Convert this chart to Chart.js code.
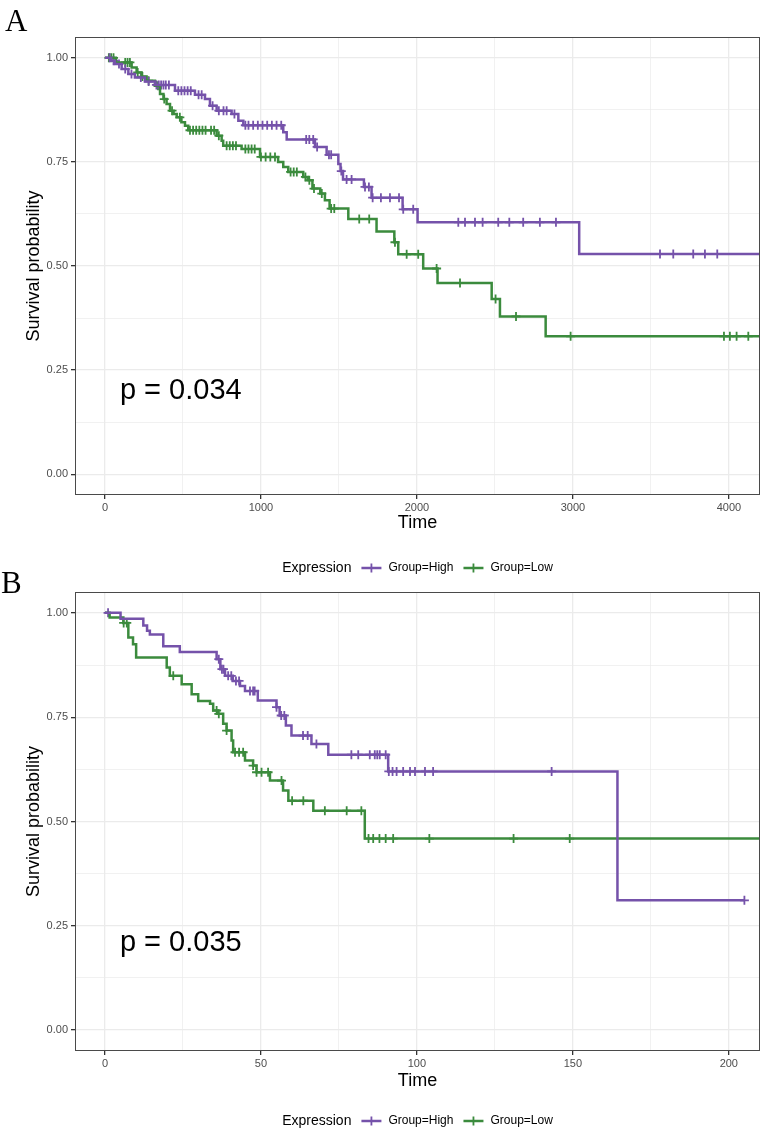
<!DOCTYPE html>
<html><head><meta charset="utf-8">
<script src="https://cdn.jsdelivr.net/npm/chart.js@4/dist/chart.umd.min.js"></script>
<style>
html,body{margin:0;padding:0;background:#fff;}
body{width:760px;height:1130px;position:relative;overflow:hidden;}
canvas{display:block;position:absolute;left:0;}
#cA{top:0;}
#cB{top:580px;}
.tag{position:absolute;font-family:"Liberation Serif","Times New Roman",serif;font-size:31px;color:#000;line-height:1;}
</style></head><body>
<canvas id="cA" width="760" height="580"></canvas>
<canvas id="cB" width="760" height="550"></canvas>
<div class="tag" style="left:5px;top:5px">A</div>
<div class="tag" style="left:1px;top:567px">B</div>
<script>
// ---------- Panel A data ----------
const timeA_high = [0,40,64,107,150,192,256,321,449,577,641,673,716,812,855,887,1143,1165,1346,1421,1496,1510,1526,1660,1709,1908,2004,3040,4300];
const survA_high = [1,0.993,0.985,0.973,0.961,0.953,0.943,0.935,0.921,0.911,0.901,0.885,0.873,0.865,0.849,0.838,0.821,0.804,0.786,0.767,0.745,0.728,0.708,0.690,0.664,0.636,0.605,0.529,0.529];
const censA_high = [30,55,90,130,170,230,280,330,345,360,375,390,410,470,490,510,530,550,600,620,690,730,760,780,830,900,920,950,980,1010,1040,1070,1100,1130,1290,1310,1335,1360,1436,1450,1515,1549,1581,1667,1692,1716,1769,1827,1885,1912,1976,2265,2308,2372,2421,2521,2592,2681,2788,2891,3558,3643,3771,3846,3925];
const timeA_low = [0,70,171,203,235,267,321,353,375,395,417,440,460,490,513,534,716,748,758,876,994,1110,1143,1175,1271,1300,1330,1380,1410,1440,1560,1741,1855,1880,2040,2132,2479,2532,2825,4300];
const survA_low = [1,0.989,0.977,0.965,0.955,0.945,0.933,0.913,0.901,0.889,0.873,0.865,0.857,0.845,0.837,0.826,0.813,0.801,0.789,0.781,0.762,0.750,0.738,0.726,0.714,0.706,0.686,0.674,0.658,0.638,0.613,0.583,0.557,0.528,0.494,0.459,0.421,0.379,0.331,0.331];
const censA_low = [25,40,55,130,145,160,210,240,280,340,380,430,480,545,565,585,605,625,645,680,700,730,780,800,820,840,900,920,940,960,1000,1030,1060,1090,1190,1210,1230,1285,1310,1340,1390,1450,1470,1630,1694,1859,1934,2008,2126,2276,2504,2635,2985,3968,4006,4049,4124];
const xTicksA = [0,500,1000,1500,2000,2500,3000,3500,4000];
const xLabelsA = [0,1000,2000,3000,4000];
const pTextA = "p = 0.034";

// ---------- Panel B data ----------
const timeB_high = [0,5,12.3,13.5,14.4,18.7,24,35.8,37,38.5,41,43.3,44.9,49,55,56,58,59.8,66.2,71.6,90.8,164.3,205];
const survB_high = [1,0.986,0.970,0.957,0.948,0.920,0.906,0.889,0.865,0.849,0.837,0.825,0.813,0.790,0.774,0.754,0.730,0.706,0.686,0.660,0.620,0.311,0.311];
const censB_high = [1,36.5,37.5,38,39.5,40.5,42,43,46.5,47.5,48,55,56.5,57.5,63.5,65,67.8,79,81.2,84.9,86.5,87.3,88.1,90,91,92.2,93.5,95.6,97.8,99.4,102.6,105.2,143.2,205];
const timeB_low = [0,1.5,5.9,7.5,9,10,19.8,20.8,24.6,27.8,29.9,33.7,34.7,36,37.9,39,40.6,41.1,44.9,47.5,48.6,52.9,57.1,58.8,66.8,83.3,215];
const survB_low = [1,0.989,0.976,0.941,0.925,0.893,0.869,0.849,0.829,0.805,0.789,0.782,0.766,0.758,0.734,0.718,0.694,0.666,0.646,0.634,0.618,0.598,0.574,0.550,0.526,0.459,0.459];
const censB_low = [6,7,21.9,35.8,36.5,39,41.7,43,44.3,47.5,48.6,50.2,52.3,56.6,60,63.6,70.5,77.5,82.2,84.5,86,88,90,92.4,104,131,149];
const xTicksB = [0,25,50,75,100,125,150,175,200];
const xLabelsB = [0,50,100,150,200];
const pTextB = "p = 0.035";

const yTicks = [0,0.125,0.25,0.375,0.5,0.625,0.75,0.875,1];
const yLabels = [0,0.25,0.5,0.75,1];
const groupNames = ["Group=High","Group=Low"];
const legendTitle = "Expression";

const COL_HIGH = "#7552aa";
const COL_LOW = "#3b8b3d";
const FONT = '"Liberation Sans", Arial, Helvetica, sans-serif';

function stepPoints(t, s){ return t.map((v,i)=>({x:v,y:s[i]})); }
function censorPoints(c, t, s){
  return c.map(ct=>{ let y=s[0]; for(let i=0;i<t.length;i++){ if(t[i]<=ct) y=s[i]; } return {x:ct,y:y}; });
}

function drawLegend(ctx, cx, cy){
  ctx.save();
  ctx.textBaseline = "middle";
  ctx.textAlign = "left";
  ctx.font = "14px " + FONT; const wE = ctx.measureText(legendTitle).width;
  ctx.font = "12px " + FONT; const wH = ctx.measureText(groupNames[0]).width; const wL = ctx.measureText(groupNames[1]).width;
  const sym=20, g1=10, g2=7, g3=10;
  const total = wE+g1+sym+g2+wH+g3+sym+g2+wL;
  let x = cx - total/2;
  ctx.fillStyle = "#000";
  ctx.font = "14px " + FONT; ctx.fillText(legendTitle, x, cy); x += wE+g1;
  const drawSym = (col)=>{
    ctx.strokeStyle = col; ctx.lineWidth = 2.5;
    ctx.beginPath(); ctx.moveTo(x, cy); ctx.lineTo(x+sym, cy); ctx.stroke();
    ctx.lineWidth = 1.8;
    ctx.beginPath(); ctx.moveTo(x+sym/2, cy-4.5); ctx.lineTo(x+sym/2, cy+4.5); ctx.moveTo(x+sym/2-4.5, cy); ctx.lineTo(x+sym/2+4.5, cy); ctx.stroke();
  };
  drawSym(COL_HIGH); x += sym+g2;
  ctx.font = "12px " + FONT; ctx.fillStyle = "#000"; ctx.fillText(groupNames[0], x, cy); x += wH+g3;
  drawSym(COL_LOW); x += sym+g2;
  ctx.fillText(groupNames[1], x, cy);
  ctx.restore();
}

function zeroPad(s){ s.paddingLeft = 0; s.paddingRight = 0; s.paddingTop = 0; s.paddingBottom = 0; }

function makeChart(id, o){
  const panelPlugin = {
    id: "panel_"+id,
    afterDatasetsDraw(chart){
      const {ctx, chartArea:a} = chart;
      ctx.save();
      ctx.strokeStyle = "#4a4a4a"; ctx.lineWidth = 1;
      ctx.strokeRect(a.left+0.5, a.top+0.5, a.right-a.left-1, a.bottom-a.top-1);
      ctx.fillStyle = "#000";
      ctx.font = "29px " + FONT;
      ctx.textBaseline = "middle"; ctx.textAlign = "left";
      ctx.fillText(o.pText, chart.scales.x.getPixelForValue(o.pX), chart.scales.y.getPixelForValue(o.pY));
      ctx.restore();
    },
    afterDraw(chart){ drawLegend(chart.ctx, 417.5, o.legendY); }
  };
  return new Chart(document.getElementById(id), {
    type: "scatter",
    data: { datasets: [
      {data: stepPoints(o.tH,o.sH), showLine:true, stepped:true, borderColor:COL_HIGH, borderWidth:2.5, pointRadius:0, fill:false},
      {data: stepPoints(o.tL,o.sL), showLine:true, stepped:true, borderColor:COL_LOW, borderWidth:2.5, pointRadius:0, fill:false},
      {data: censorPoints(o.cH,o.tH,o.sH), showLine:false, pointStyle:"cross", pointRadius:4.5, pointBorderWidth:1.8, borderColor:COL_HIGH, backgroundColor:COL_HIGH},
      {data: censorPoints(o.cL,o.tL,o.sL), showLine:false, pointStyle:"cross", pointRadius:4.5, pointBorderWidth:1.8, borderColor:COL_LOW, backgroundColor:COL_LOW}
    ]},
    options: {
      responsive:false, animation:false, devicePixelRatio:1,
      layout:{autoPadding:false, padding:{top:o.padTop,left:0,right:0,bottom:0}},
      plugins:{legend:{display:false}, tooltip:{enabled:false}},
      scales:{
        x:{type:"linear", min:o.xMin, max:o.xMax,
          afterBuildTicks:(s)=>{ s.ticks = o.xTicks.map(v=>({value:v})); },
          afterFit:(s)=>{ s.height = o.xAxisH; zeroPad(s); },
          ticks:{autoSkip:false, maxRotation:0, padding:2, color:"#4d4d4d", font:{family:FONT,size:11},
            callback:(v)=> o.xLabels.includes(v) ? String(v) : ""},
          grid:{color:"#ebebeb", lineWidth:(c)=> (c.tick && o.xLabels.includes(c.tick.value)) ? 1.3 : 0.7,
            tickColor:(c)=> (c.tick && o.xLabels.includes(c.tick.value)) ? "#333" : "rgba(0,0,0,0)", tickLength:4},
          border:{display:false},
          title:{display:true, text:"Time", color:"#000", font:{family:FONT,size:18}, padding:{top:0,bottom:o.xTitlePad}}
        },
        y:{type:"linear", min:-0.05, max:1.05,
          afterBuildTicks:(s)=>{ s.ticks = yTicks.map(v=>({value:v})); },
          afterFit:(s)=>{ s.width = 75; zeroPad(s); },
          ticks:{autoSkip:false, padding:3, color:"#4d4d4d", font:{family:FONT,size:11},
            callback:(v)=> yLabels.includes(v) ? v.toFixed(2) : ""},
          grid:{color:"#ebebeb", lineWidth:(c)=> (c.tick && yLabels.includes(c.tick.value)) ? 1.3 : 0.7,
            tickColor:(c)=> (c.tick && yLabels.includes(c.tick.value)) ? "#333" : "rgba(0,0,0,0)", tickLength:4},
          border:{display:false},
          title:{display:true, text:"Survival probability", color:"#000", font:{family:FONT,size:18}, padding:{top:23,bottom:0}}
        }
      }
    },
    plugins:[panelPlugin]
  });
}

makeChart("cA", {tH:timeA_high,sH:survA_high,cH:censA_high,tL:timeA_low,sL:survA_low,cL:censA_low,
  xMin:-192, xMax:4199, xTicks:xTicksA, xLabels:xLabelsA, padTop:37, xAxisH:85, xTitlePad:46,
  pText:pTextA, pX:96, pY:0.2, legendY:568});
makeChart("cB", {tH:timeB_high,sH:survB_high,cH:censB_high,tL:timeB_low,sL:survB_low,cL:censB_low,
  xMin:-9.6, xMax:210, xTicks:xTicksB, xLabels:xLabelsB, padTop:12, xAxisH:79, xTitlePad:38,
  pText:pTextB, pX:4.8, pY:0.21, legendY:541});
</script>
</body></html>
